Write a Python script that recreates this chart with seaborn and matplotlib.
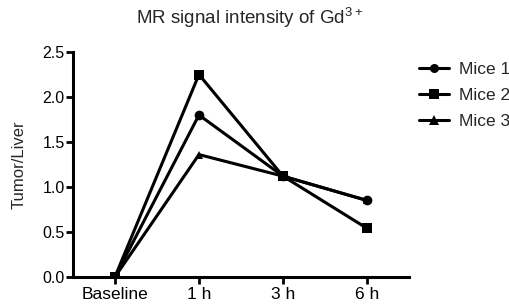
import matplotlib
matplotlib.use("Agg")
import matplotlib.pyplot as plt
import seaborn as sns
import pandas as pd

timepoints = ["Baseline", "1 h", "3 h", "6 h"]
mice1 = [0.0, 1.80, 1.12, 0.85]
mice2 = [0.0, 2.25, 1.12, 0.54]
mice3 = [0.0, 1.36, 1.12, 0.85]
series_names = ["Mice 1", "Mice 2", "Mice 3"]

sns.set_theme(style="ticks")
plt.rcParams["font.family"] = ["Liberation Sans", "DejaVu Sans"]
plt.rcParams["mathtext.fontset"] = "custom"
plt.rcParams["mathtext.rm"] = "Liberation Sans"
plt.rcParams["mathtext.it"] = "Liberation Sans"

rows = []
for name, vals in zip(series_names, [mice1, mice2, mice3]):
    for i, (t, v) in enumerate(zip(timepoints, vals)):
        rows.append({"x": i, "time": t, "value": v, "series": name})
df = pd.DataFrame(rows)

fig = plt.figure(figsize=(5.10, 3.06), dpi=100)
ax = fig.add_axes([0.143, 0.095, 0.659, 0.735])

sns.lineplot(data=df, x="x", y="value", hue="series", style="series",
             markers={"Mice 1": "o", "Mice 2": "s", "Mice 3": "^"},
             dashes=False, palette=["black"] * 3, linewidth=2.2,
             markersize=6.5, markeredgewidth=0, ax=ax, legend=True)
ax.lines[0].set_zorder(4)
ax.lines[0].set_markersize(7)
ax.lines[2].set_markersize(5.5)

ax.set_xlim(-0.5, 3.5)
ax.set_ylim(0, 2.5)
ax.set_xticks(range(len(timepoints)))
ax.set_xticklabels(timepoints, fontsize=12.5)
ax.set_yticks([0, 0.5, 1.0, 1.5, 2.0, 2.5])
ax.set_yticklabels(["0.0", "0.5", "1.0", "1.5", "2.0", "2.5"], fontsize=11.5)
ax.set_xlabel("")
ax.set_ylabel("Tumor/Liver", fontsize=12, labelpad=11)
for s in ["top", "right"]:
    ax.spines[s].set_visible(False)
for s in ["left", "bottom"]:
    ax.spines[s].set_linewidth(2.2)
    ax.spines[s].set_color("black")
ax.tick_params(axis="both", width=2.0, length=5, color="black", labelcolor="black")
ax.tick_params(axis="y", pad=1)
ax.tick_params(axis="x", pad=2)
ax.set_title("MR signal intensity of Gd$^{3+}$", fontsize=13.5, pad=20, x=0.527)

leg = ax.legend(loc="upper left", bbox_to_anchor=(1.01, 0.985), frameon=False,
                fontsize=12.5, handlelength=1.7, handletextpad=0.6, labelspacing=0.6,
                borderaxespad=0)
for h in leg.legend_handles:
    h.set_color("black")
    h.set_linewidth(2.2)

fig.savefig("out.png", dpi=100)
